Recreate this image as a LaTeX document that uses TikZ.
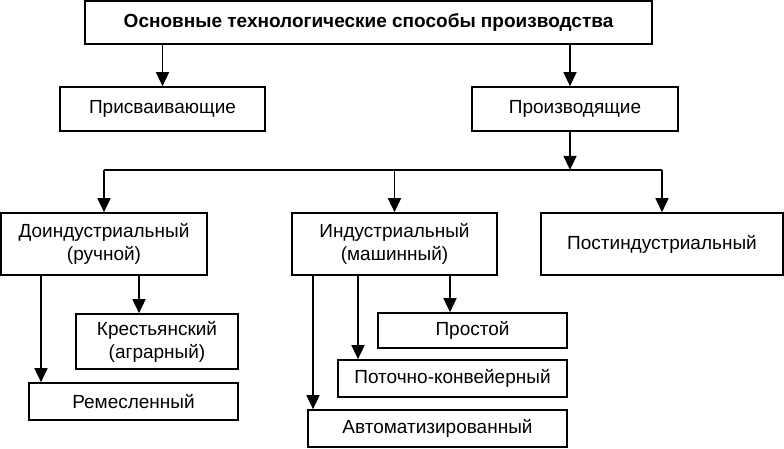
\documentclass[tikz,border=0pt]{standalone}
\usepackage{fontspec}
\setmainfont{Liberation Sans}
\usetikzlibrary{arrows.meta}

\tikzset{
  box/.style={draw, line width=1.7pt, align=center, inner sep=2pt,
    font=\fontsize{19}{23}\selectfont},
  arr/.style={-{Triangle[length=14pt,width=13pt]}, line width=1.7pt}
}

\begin{document}
\begin{tikzpicture}[x=1pt, y=-1pt, line width=1.7pt]
			\useasboundingbox (0,0) rectangle (784,448);

			% Top levels
			\node[box, minimum width=567pt, minimum height=43pt, font=\fontsize{19}{23}\selectfont\bfseries] (main) at (368.5,22.5) {Основные технологические способы производства};
			\node[box, minimum width=205pt, minimum height=44pt] (prisv) at (162.5,109) {Присваивающие};
			\node[box, minimum width=206pt, minimum height=44pt] (proizv) at (575,109) {Производящие};

			% Second row
			\node[box, minimum width=206pt, minimum height=62pt] (doind) at (104,244) {Доиндустриальный\\(ручной)};
			\node[box, minimum width=205pt, minimum height=62pt] (indus) at (394.5,244) {Индустриальный\\(машинный)};
			\node[box, minimum width=242pt, minimum height=62pt] (postind) at (662,244) {Постиндустриальный};

			% Lower boxes
			\node[box, minimum width=162pt, minimum height=55pt] (krest) at (157,341.5) {Крестьянский\\(аграрный)};
			\node[box, minimum width=209pt, minimum height=37pt] (remes) at (133.5,401.5) {Ремесленный};
			\node[box, minimum width=189pt, minimum height=35pt] (prost) at (472.5,330.5) {Простой};
			\node[box, minimum width=229pt, minimum height=37pt] (potoch) at (452.5,378.5) {Поточно-конвейерный};
			\node[box, minimum width=259pt, minimum height=37pt] (avtom) at (437.5,428.5) {Автоматизированный};

			% Arrows from the top
			\draw[arr] (main.south -| prisv.north) -- (prisv.north);
			\draw[arr] ([xshift=-5pt]proizv.north |- main.south) coordinate (m1) -- (m1 |- proizv.north);

			% Branching line
			\draw[arr] ([xshift=-5pt]proizv.south) coordinate (p1) -- ++(0,38) coordinate (hub);
			\draw (doind.north |- hub) -- (postind.north |- hub);
			\foreach \n in {doind, indus, postind}
				\draw[arr] (\n.north |- hub) -- (\n.north);

			% Arrows from the second row
			\draw[arr] ([xshift=-63pt]doind.south) coordinate (d1) -- (d1 |- remes.north);
			\draw[arr] ([xshift=35pt]doind.south) coordinate (d2) -- (d2 |- krest.north);
			\draw[arr] ([xshift=-81.5pt]indus.south) coordinate (i1) -- (i1 |- avtom.north);
			\draw[arr] ([xshift=-36.5pt]indus.south) coordinate (i2) -- (i2 |- potoch.north);
			\draw[arr] ([xshift=55.5pt]indus.south) coordinate (i3) -- (i3 |- prost.north);

		\end{tikzpicture}
\end{document}
